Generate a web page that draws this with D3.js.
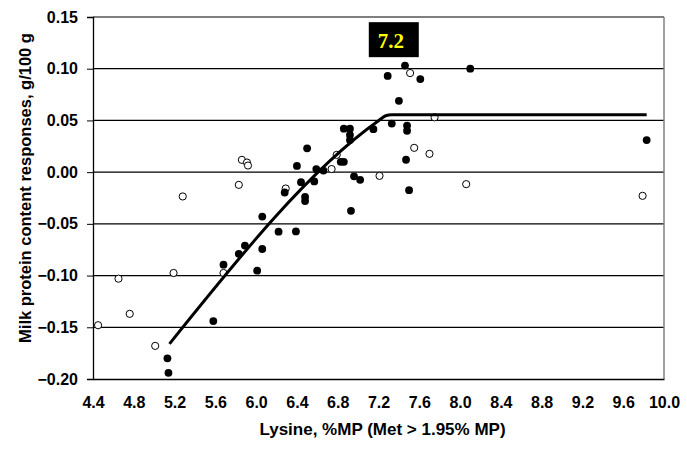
<!DOCTYPE html>
<html>
<head>
<meta charset="utf-8">
<script src="https://cdn.jsdelivr.net/npm/d3@7"></script>
<style>
  body { margin: 0; background: #fff; }
  .sans { font-family: Arial, "Liberation Sans", sans-serif; }
</style>
</head>
<body>
<div id="chart"></div>
<script>
// Filled circles (Met > 1.95% MP)
const filledX = [7.46, 7.29, 7.61, 8.10, 7.40, 7.33, 7.48, 7.48, 7.15, 6.86, 6.92, 6.92, 6.92, 7.47,
  6.50, 6.83, 6.86, 6.40, 6.59, 6.66, 6.96, 7.02, 6.44, 6.57, 7.50, 6.28, 6.48, 6.48, 6.93, 6.06,
  6.22, 6.39, 6.06, 6.01, 5.13, 5.14, 5.58, 5.68, 5.83, 5.89, 9.83];
const filledY = [0.103, 0.093, 0.090, 0.100, 0.069, 0.047, 0.045, 0.040, 0.0415, 0.042, 0.042, 0.036, 0.031, 0.012,
  0.023, 0.010, 0.010, 0.006, 0.003, 0.0015, -0.004, -0.0074, -0.0097, -0.009, -0.0174, -0.0197, -0.024, -0.028, -0.0374, -0.043,
  -0.0576, -0.0573, -0.0743, -0.0953, -0.180, -0.194, -0.144, -0.0895, -0.079, -0.071, 0.031];

// Open circles
const openX = [7.51, 7.75, 7.55, 7.70, 6.79, 6.74, 7.21, 8.06, 6.29, 4.45, 4.65, 4.76, 5.01, 5.19,
  5.28, 5.83, 5.68, 5.86, 5.91, 5.92, 9.79];
const openY = [0.0958, 0.053, 0.0235, 0.0177, 0.0167, 0.003, -0.0036, -0.0116, -0.0158, -0.148, -0.103, -0.137, -0.168, -0.0975,
  -0.0235, -0.0123, -0.0975, 0.0119, 0.0093, 0.0064, -0.0229];

// Fitted broken-line response
const fitX = [5.15, 7.20, 7.27, 7.33, 9.83];
const fitY = [-0.166, 0.0497, 0.0545, 0.0556, 0.0556];

const xTicks = [4.4, 4.8, 5.2, 5.6, 6.0, 6.4, 6.8, 7.2, 7.6, 8.0, 8.4, 8.8, 9.2, 9.6, 10.0];
const yTicks = [0.15, 0.10, 0.05, 0.00, -0.05, -0.10, -0.15, -0.20];
const breakLabel = "7.2";

const width = 687;
const height = 451;
const margin = { top: 17, right: 23, bottom: 72, left: 93 };
const innerW = width - margin.left - margin.right;
const innerH = height - margin.top - margin.bottom;

const svg = d3.select("#chart")
  .append("svg")
  .attr("class", "sans")
  .attr("width", width)
  .attr("height", height);

const g = svg.append("g")
  .attr("transform", `translate(${margin.left},${margin.top})`);

const x = d3.scaleLinear().domain([4.4, 10.0]).range([0, innerW]);
const y = d3.scaleLinear().domain([-0.20, 0.15]).range([innerH, 0]);

// horizontal gridlines
g.append("g")
  .selectAll("line")
  .data(yTicks.filter(d => d > -0.2))
  .enter()
  .append("line")
  .attr("x1", 0)
  .attr("x2", innerW)
  .attr("y1", d => y(d))
  .attr("y2", d => y(d))
  .attr("stroke", "#000")
  .attr("stroke-width", 1.2);

// right border
g.append("line")
  .attr("x1", innerW).attr("x2", innerW)
  .attr("y1", 0).attr("y2", innerH)
  .attr("stroke", "#808080")
  .attr("stroke-width", 1.5);

// y axis
const yAxis = g.append("g")
  .call(d3.axisLeft(y).tickValues(yTicks).tickFormat(d3.format(".2f")).tickSize(6).tickPadding(9));
yAxis.attr("font-family", null).attr("font-size", null);
yAxis.select(".domain").attr("stroke", "#000").attr("stroke-width", 1.3);
yAxis.selectAll("text")
  .attr("font-size", 16)
  .attr("font-weight", "bold")
  .attr("fill", "#000");

// x axis
const xAxis = g.append("g")
  .attr("transform", `translate(0,${innerH})`)
  .call(d3.axisBottom(x).tickValues(xTicks).tickFormat(d3.format(".1f")).tickSize(0).tickPadding(18));
xAxis.attr("font-family", null).attr("font-size", null);
xAxis.select(".domain").attr("stroke", "#000").attr("stroke-width", 1.3);
xAxis.selectAll("text")
  .attr("font-size", 16)
  .attr("font-weight", "bold")
  .attr("fill", "#000");

// axis titles
svg.append("text")
  .attr("x", margin.left + innerW / 2 + 4)
  .attr("y", 435)
  .attr("text-anchor", "middle")
  .attr("font-size", 17)
  .attr("font-weight", "bold")
  .text("Lysine, %MP (Met > 1.95% MP)");

svg.append("text")
  .attr("transform", "translate(31,188) rotate(-90)")
  .attr("text-anchor", "middle")
  .attr("font-size", 16.5)
  .attr("font-weight", "bold")
  .text("Milk protein content responses, g/100 g");

// open points
g.append("g")
  .selectAll("circle")
  .data(d3.zip(openX, openY))
  .enter()
  .append("circle")
  .attr("cx", d => x(d[0]))
  .attr("cy", d => y(d[1]))
  .attr("r", 3.6)
  .attr("fill", "#fff")
  .attr("stroke", "#000")
  .attr("stroke-width", 1);

// filled points
g.append("g")
  .selectAll("circle")
  .data(d3.zip(filledX, filledY))
  .enter()
  .append("circle")
  .attr("cx", d => x(d[0]))
  .attr("cy", d => y(d[1]))
  .attr("r", 3.9)
  .attr("fill", "#000");

// fitted line
const line = d3.line()
  .x(d => x(d[0]))
  .y(d => y(d[1]))
  .curve(d3.curveMonotoneX);

g.append("path")
  .datum(d3.zip(fitX, fitY))
  .attr("d", line)
  .attr("fill", "none")
  .attr("stroke", "#000")
  .attr("stroke-width", 3);

// breakpoint label
const bx = x(7.35);
const by = y(0.145);
g.append("rect")
  .attr("x", bx - 25)
  .attr("y", by)
  .attr("width", 50)
  .attr("height", 35)
  .attr("fill", "#000");
g.append("text")
  .attr("x", bx - 3)
  .attr("y", by + 26)
  .attr("text-anchor", "middle")
  .style("font-family", "'Liberation Serif', 'Times New Roman', serif")
  .attr("font-size", 21)
  .attr("font-weight", "bold")
  .attr("fill", "#ffff00")
  .text(breakLabel);
</script>
</body>
</html>
